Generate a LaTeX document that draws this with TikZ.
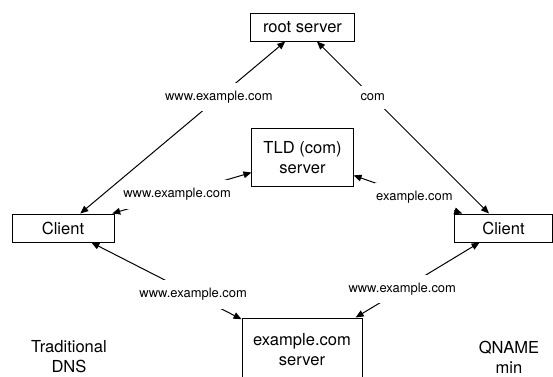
\documentclass[tikz,border=0pt]{standalone}
\usepackage{fontspec}
\setmainfont{TeX Gyre Heros}
\usetikzlibrary{arrows.meta}

\begin{document}
\begin{tikzpicture}[
  x=.75pt,y=-.75pt,
  srv/.style={draw,line width=.75pt,align=center,inner sep=0pt,
              font=\fontsize{12.4}{15}\selectfont},
  lbl/.style={fill=white,inner xsep=1pt,inner ysep=6pt,
              font=\fontsize{9.7}{11}\selectfont},
  note/.style={align=center,font=\fontsize{12.4}{15}\selectfont},
  query/.style={{Triangle[length=6pt,width=5pt]}-{Triangle[length=6pt,width=5pt]},
                line width=.75pt}
]
\clip (0,0) rectangle (553,376);

% Servers, top to bottom.
\node[srv,minimum width=77.3pt,minimum height=21pt] (root) at (302.5,27) {root server};
\node[srv,minimum width=75.8pt,minimum height=42.8pt] (tld) at (302.5,157.5) {TLD (com)\\server};
\node[srv,minimum width=90pt,minimum height=48pt] (auth) at (302,350) {example.com\\server};

% The two resolvers.
\node[srv,minimum width=76.5pt,minimum height=21pt] (cl) at (63,228) {Client};
\node[srv,minimum width=72.8pt,minimum height=21pt] (cr) at (503.5,228) {Client};

\node[note] (trad) at (69,357) {Traditional\\DNS};
\node[note] (qmin) at (509,357) {QNAME\\min};

% Traditional DNS sends the full name everywhere.
\draw[query] (cl) -- node[lbl,pos=.676] {www.example.com} (root);
\draw[query] (cl) -- node[lbl,pos=.466] {www.example.com} (tld);
\draw[query] (cl) -- node[lbl,pos=.678] {www.example.com} (auth);

% QNAME minimisation only sends what each level needs.
\draw[query] (cr) -- node[lbl,pos=.676] {com} (root);
\draw[query] (cr) -- node[lbl,pos=.44] {example.com} (tld);
\draw[query] (cr) -- node[lbl,pos=.624] {www.example.com} (auth);

\end{tikzpicture}
\end{document}
